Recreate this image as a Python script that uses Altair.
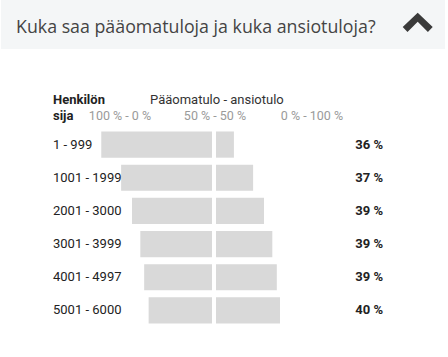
import altair as alt
import pandas as pd

# ---- data ----
categories = ["1 - 999", "1001 - 1999", "2001 - 3000", "3001 - 3999", "4001 - 4997", "5001 - 6000"]
paaomatulo = [86.5, 71, 62.5, 56, 53, 49.5]   # capital-income share (%), left bars
ansiotulo = [14, 29, 37.5, 44, 47.5, 50]      # earned-income share (%), right bars
pct_values = [36, 37, 39, 39, 39, 40]
pct_labels = [f"{v} %" for v in pct_values]
scale_labels = ["100 % - 0 %", "50 % - 50 %", "0 % - 100 %"]
title_text = "Kuka saa pääomatuloja ja kuka ansiotuloja?"
col_header = ["Henkilön", "sija"]
bar_header = "Pääomatulo - ansiotulo"

df = pd.DataFrame({
    "sija": categories,
    "paaoma": [-v for v in paaomatulo],
    "ansio": ansiotulo,
    "pct": pct_labels,
    "zero": [0] * len(categories),
})

FONT = "Roboto"
BAR = "#d9d9d9"

yenc = alt.Y("sija:N", sort=categories, axis=None,
             scale=alt.Scale(range=[128, 327], paddingInner=0.21, paddingOuter=0.105))

base = alt.Chart(df)

left = base.mark_rect(color=BAR).encode(
    x=alt.X("paaoma:Q", axis=None, scale=alt.Scale(domain=[-100, 0], range=[84, 212])),
    x2="zero:Q",
    y=yenc,
)
right = base.mark_rect(color=BAR).encode(
    x=alt.X("zero:Q", axis=None, scale=alt.Scale(domain=[0, 100], range=[216, 344])),
    x2="ansio:Q",
    y=yenc,
)

row_labels = base.mark_text(align="left", baseline="middle", font=FONT, fontSize=13,
                            color="#222222").encode(
    x=alt.value(53), y=yenc, text="sija:N")
pct_text = base.mark_text(align="right", baseline="middle", font=FONT, fontSize=13,
                          fontWeight="bold", color="#222222").encode(
    x=alt.value(383), y=yenc, text="pct:N")

# header panel
hdr_bg = alt.Chart(alt.Data(values=[{"t": title_text}])).mark_rect(color="#f4f6f7").encode(
    x=alt.value(1), x2=alt.value(445), y=alt.value(0), y2=alt.value(49))
hdr_title = alt.Chart(alt.Data(values=[{"t": title_text}])).mark_text(
    align="left", baseline="alphabetic", font="Open Sans", fontSize=17.8, color="#444444").encode(
    x=alt.value(16), y=alt.value(33), text="t:N")
chevron = alt.Chart(alt.Data(values=[{"t": "up"}])).mark_point(
    shape="M 0 -0.62 L 1 0.34 L 0.68 0.66 L 0 -0.02 L -0.68 0.66 L -1 0.34 Z",
    filled=True, opacity=1, color="#3a3a3a", size=900, strokeWidth=0).encode(
    x=alt.value(417.7), y=alt.value(22))

# column headers
h1 = alt.Chart(alt.Data(values=[{"t": col_header[0]}, {"t": col_header[1]}])).transform_window(
    i="row_number()").mark_text(align="left", baseline="alphabetic", font=FONT, fontSize=13,
                                fontWeight="bold", color="#222222").encode(
    x=alt.value(53),
    y=alt.Y("i:O", axis=None, scale=alt.Scale(range=[104, 120], padding=0)),
    text="t:N")
h2 = alt.Chart(alt.Data(values=[{"t": bar_header}])).mark_text(
    align="left", baseline="alphabetic", font=FONT, fontSize=13, color="#333333").encode(
    x=alt.value(150), y=alt.value(104), text="t:N")
sc = alt.Chart(alt.Data(values=[{"t": s, "p": p} for s, p in zip(scale_labels, [120, 215, 312])])).mark_text(
    align="center", baseline="alphabetic", font=FONT, fontSize=12.5, color="#9a9a9a").encode(
    x=alt.X("p:Q", axis=None, scale=alt.Scale(domain=[0, 448], range=[0, 448])),
    y=alt.value(120), text="t:N")

chart = alt.layer(hdr_bg, hdr_title, chevron, left, right, row_labels, pct_text, h1, h2, sc).resolve_scale(
    x="independent", y="independent"
).properties(
    width=448, height=357, padding=0, autosize=alt.AutoSizeParams(type="none"),
    background="white",
).configure_view(stroke=None)

chart.save("out.html", embed_options={"renderer": "svg", "actions": False})
